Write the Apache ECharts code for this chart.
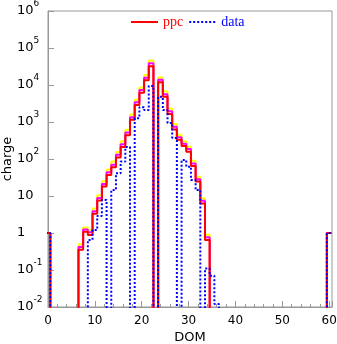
<!DOCTYPE html>
<html><head><meta charset="utf-8">
<script src="https://cdn.jsdelivr.net/npm/echarts@6/dist/echarts.min.js"></script>
<style>html,body{margin:0;padding:0;background:#fff}#c{width:337px;height:344px}</style>
</head><body><div id="c"></div>
<script>
// DOM bins 0..60
const dom = [0,1,2,3,4,5,6,7,8,9,10,11,12,13,14,15,16,17,18,19,20,21,22,23,24,25,26,27,28,29,30,31,32,33,34,35,36,37,38,39,40,41,42,43,44,45,46,47,48,49,50,51,52,53,54,55,56,57,58,59,60];
// ppc upper band (yellow)
const ppcHi = [1,0,0,0,0,0,0,0.5,1.4,1.2,4.6,10.5,25,52,85,155,300,620,1600,4000,8600,18500,46000,0,16000,6800,2300,880,450,300,215,90,33,8.6,0.9,0,0,0,0,0,0,0,0,0,0,0,0,0,0,0,0,0,0,0,0,0,0,0,0,0,1];
// ppc mid band (magenta)
const ppcMid = [1,0,0,0,0,0,0,0.42,1.25,1.05,3.9,8.8,21,44,70,130,250,520,1350,3400,7300,15800,39000,0,13800,5600,1950,740,385,260,185,76,28.5,7.4,0.77,0,0,0,0,0,0,0,0,0,0,0,0,0,0,0,0,0,0,0,0,0,0,0,0,0,1];
// ppc (red)
const ppc = [1,0,0,0,0,0,0,0.35,1.08,0.88,3.3,7.5,18,37,60,110,210,440,1150,2900,6200,13500,32000,0,11800,4800,1650,630,330,224,158,65,24.5,6.3,0.65,0,0,0,0,0,0,0,0,0,0,0,0,0,0,0,0,0,0,0,0,0,0,0,0,0,1];
// data (blue dotted)
const data = [1,0,0,0,0,0,0,0,0,0.65,1.2,2.9,7.8,0,14.5,41,85,210,0,1260,2500,2100,9400,0,4800,2100,940,370,0,94,62,27,14.5,0,0.11,0.07,0.012,0,0,0,0,0,0,0,0,0,0,0,0,0,0,0,0,0,0,0,0,0,0,0,1];
// y tick labels
const yTickPower = [-2,-1,0,1,2,3,4,5,6];
const yTickBase = ['10','10','1','10','10','10','10','10','10'];
const yTickSup = ['-2','-1','','','2','3','4','5','6'];

const FLOOR = 1e-4; // empty bins drawn below the axis floor
function steps(vals){
  const pts = [];
  vals.forEach((v,i)=>{
    const y = v > 0 ? v : FLOOR;
    pts.push([dom[i]-0.5, y], [dom[i]+0.5, y]);
  });
  return pts;
}
const sans = 'DejaVu Sans';
const chart = echarts.init(document.getElementById('c'), null, {renderer:'canvas'});
function lineSeries(name, vals, color, type){
  return {type:'line', name, data:steps(vals), symbol:'none', clip:true, silent:true,
    animation:false, lineStyle:{color, width:2, type:type||'solid'}, itemStyle:{color}};
}
chart.setOption({
  animation:false,
  backgroundColor:'#fff',
  grid:{left:48, right:5, top:11, bottom:37, show:true, borderColor:'#999', borderWidth:1,
        containLabel:false, outerBoundsMode:'none'},
  legend:{
    data:[{name:'ppc', textStyle:{color:'#ff0000'}},{name:'data', textStyle:{color:'#0000ff'}}],
    left:130, top:15, itemWidth:27, itemHeight:14, itemGap:5, padding:0,
    itemStyle:{opacity:0, borderWidth:0},
    textStyle:{fontFamily:'Liberation Serif', fontSize:14}
  },
  xAxis:{
    type:'value', min:0, max:60.6, interval:10,
    name:'DOM', nameLocation:'middle', nameGap:24, nameMoveOverlap:false,
    nameTextStyle:{fontFamily:sans, fontSize:13, color:'#000'},
    axisLine:{lineStyle:{color:'#999'}},
    axisTick:{inside:true, length:6, lineStyle:{color:'#999'}},
    minorTick:{show:true, splitNumber:5, length:3, lineStyle:{color:'#999'}},
    splitLine:{show:false},
    axisLabel:{fontFamily:sans, fontSize:12, color:'#000', margin:8, showMaxLabel:false}
  },
  yAxis:{
    type:'log', logBase:10, min:1e-2, max:1e6, splitNumber:8,
    name:'charge', nameLocation:'middle', nameGap:34, nameMoveOverlap:false,
    nameTextStyle:{fontFamily:sans, fontSize:13, color:'#000'},
    axisLine:{show:true, lineStyle:{color:'#999'}},
    axisTick:{inside:true, length:6, lineStyle:{color:'#999'}},
    splitLine:{show:false},
    axisLabel:{
      align:'left', margin:31,
      formatter:(v)=>{
        const p = Math.round(Math.log10(v));
        const i = yTickPower.indexOf(p);
        if (i < 0) return '';
        return '{b|'+yTickBase[i]+'}' + (yTickSup[i] ? '{s|'+yTickSup[i]+'}' : '');
      },
      rich:{
        b:{fontFamily:sans, fontSize:13, lineHeight:24, color:'#000'},
        s:{fontFamily:sans, fontSize:9, lineHeight:9, verticalAlign:'top', color:'#000'}
      }
    }
  },
  series:[
    lineSeries('ppcHi', ppcHi, '#ffff00'),
    lineSeries('ppcMid', ppcMid, '#ff00ff'),
    lineSeries('ppc', ppc, '#ff0000'),
    lineSeries('data', data, '#0000ff', 'dotted')
  ]
});
</script></body></html>
